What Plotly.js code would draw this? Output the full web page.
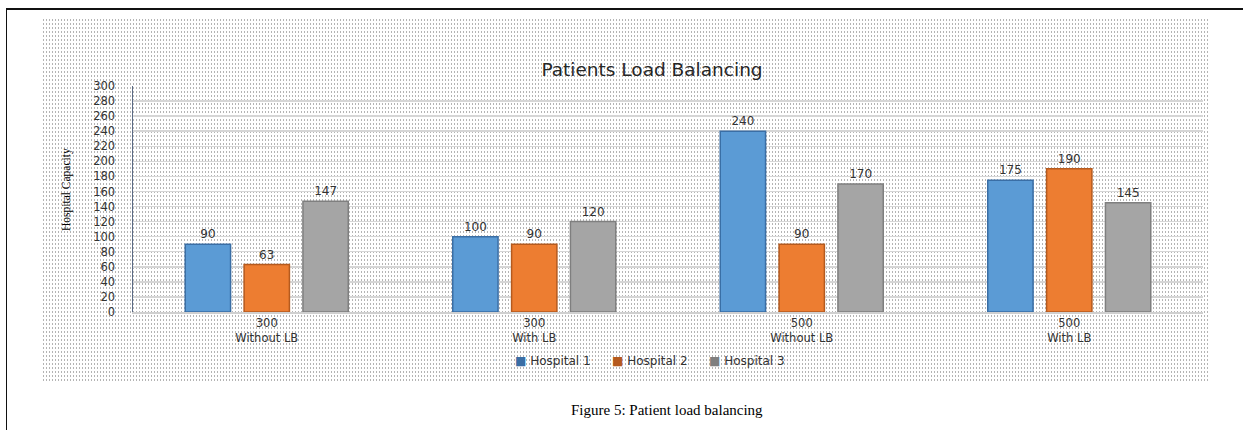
<!DOCTYPE html>
<html>
<head>
<meta charset="utf-8">
<script src="https://cdn.plot.ly/plotly-3.0.1.min.js"></script>
<style>
  html, body { margin:0; padding:0; background:#fff; }
  #wrap { position:relative; width:1243px; height:430px; overflow:hidden; }
  #frame { position:absolute; left:6px; top:8px; width:1260px; height:440px; border-top:2px solid #111; border-left:1.5px solid #111; }
  #dots { position:absolute; left:42px; top:18px; width:1168px; height:365px;
          background-image: radial-gradient(circle, #b4b4b4 0.5px, rgba(255,255,255,0) 0.9px);
          background-size: 3px 4px; }
  #chart { position:absolute; left:0; top:0; width:1243px; height:430px; }
</style>
</head>
<body>
<div id="wrap">
  <div id="frame"></div>
  <div id="dots"></div>
  <div id="chart"></div>
</div>
<script>
const categories = ["300<br>Without LB", "300<br>With LB", "500<br>Without LB", "500<br>With LB"];
const hospital1 = [90, 100, 240, 175];
const hospital2 = [63, 90, 90, 190];
const hospital3 = [147, 120, 170, 145];
const seriesNames = ["Hospital 1", "Hospital 2", "Hospital 3"];
const yTicks = [0,20,40,60,80,100,120,140,160,180,200,220,240,260,280,300];

const fills = ["#5B9BD5", "#ED7D31", "#A5A5A5"];
const edges = ["#3A6EA5", "#B55A1E", "#7F7F7F"];
const seriesVals = [hospital1, hospital2, hospital3];
const FONT = "DejaVu Sans, sans-serif";

const traces = seriesVals.map((vals, i) => ({
  type: "bar",
  name: seriesNames[i],
  x: categories,
  y: vals,
  text: vals.map(String),
  textposition: "outside",
  cliponaxis: false,
  showlegend: false,
  textfont: {family: FONT, size: 12, color: "#333"},
  marker: {color: fills[i], line: {color: edges[i], width: 1.5}},
  hoverinfo: "skip"
}));

// legend-only entries: coloured small square drawn as text, symbol hidden
seriesNames.forEach((nm, i) => {
  traces.push({
    type: "scatter", mode: "markers",
    name: '<span style="color:' + edges[i] + '">\u25A0</span> ' + nm,
    x: [categories[0]], y: [null],
    marker: {symbol: "square", size: 1, color: fills[i], opacity: 0},
    hoverinfo: "skip", showlegend: true
  });
});
// empty spacer entry so the last legend label is not clipped
traces.push({
  type: "scatter", mode: "markers", name: " ",
  x: [categories[0]], y: [null],
  marker: {size: 1, opacity: 0},
  hoverinfo: "skip", showlegend: true
});

const layout = {
  width: 1243, height: 430,
  margin: {l: 133, r: 40, t: 86, b: 118},
  paper_bgcolor: "rgba(0,0,0,0)",
  plot_bgcolor: "rgba(0,0,0,0)",
  barmode: "group",
  bargap: 0.34,
  bargroupgap: 0.23,
  showlegend: true,
  title: {
    text: "Patients Load Balancing",
    font: {family: FONT, size: 18.5, color: "#262626"},
    x: 652/1243, xanchor: "center", xref: "container",
    y: 1 - 70/430, yanchor: "middle", yref: "container"
  },
  xaxis: {
    type: "category",
    showgrid: false,
    showline: true, linecolor: "#d0d0d0", linewidth: 1.5,
    ticks: "",
    tickfont: {family: FONT, size: 11.5, color: "#333"},
    fixedrange: true
  },
  yaxis: {
    range: [0, 300],
    tickvals: yTicks,
    ticktext: yTicks.map(String),
    showgrid: true, gridcolor: "#d6d6d6", gridwidth: 1.5,
    zeroline: false,
    showline: true, linecolor: "#5b6b85", linewidth: 1.5,
    ticks: "",
    ticklabelstandoff: 14,
    tickfont: {family: FONT, size: 11.5, color: "#333"},
    fixedrange: true
  },
  legend: {
    orientation: "h",
    x: (475 - 133) / 1070, xanchor: "left",
    y: (312 - 360) / 226, yanchor: "middle",
    font: {family: FONT, size: 12, color: "#333"},
    bgcolor: "rgba(0,0,0,0)",
    itemwidth: 30,
    entrywidth: 52,
    entrywidthmode: "pixels"
  },
  annotations: [
    {
      text: "Hospital Capacity",
      xref: "paper", yref: "paper",
      x: (66 - 133) / 1070, y: (312 - 190) / 226,
      xanchor: "center", yanchor: "middle",
      textangle: -90, showarrow: false,
      font: {family: "Liberation Serif, serif", size: 11.5, color: "#000"}
    },
    {
      text: "Figure 5: Patient load balancing",
      xref: "paper", yref: "paper",
      x: (667 - 133) / 1070, y: (312 - 410) / 226,
      xanchor: "center", yanchor: "middle",
      showarrow: false,
      font: {family: "Liberation Serif, serif", size: 15, color: "#000"}
    }
  ]
};

Plotly.newPlot("chart", traces, layout, {displayModeBar: false, staticPlot: true});
</script>
</body>
</html>
